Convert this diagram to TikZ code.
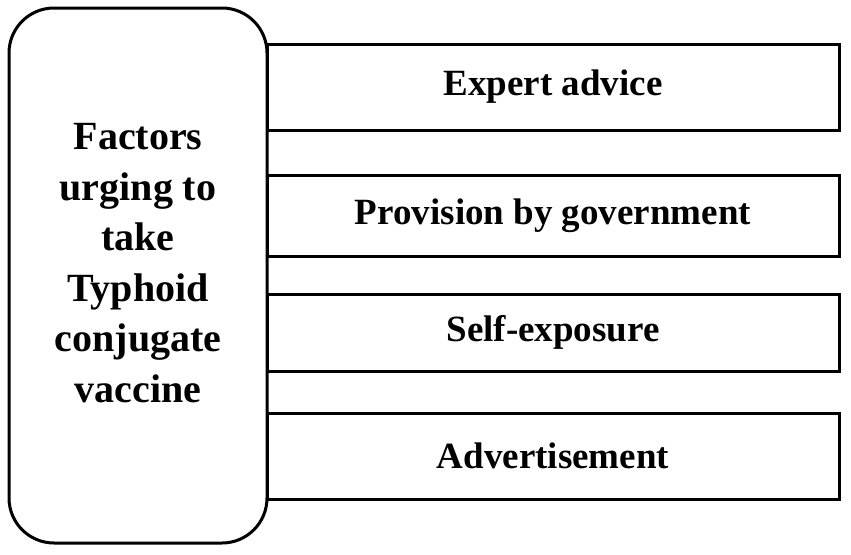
\documentclass[tikz,border=0pt]{standalone}
\usepackage{fontspec}
\setmainfont{Liberation Serif}
\begin{document}
\begin{tikzpicture}[x=1pt,y=-1pt,
  frame/.style={draw=black,line width=3pt,inner sep=0pt},
  factorbox/.style={frame,minimum width=572pt,font=\fontsize{37}{44}\selectfont\bfseries},
  mainbox/.style={frame,rounded corners=45pt,minimum width=258pt,minimum height=535pt},
  maintext/.style={align=center,inner sep=0pt,font=\fontsize{40}{50.5}\selectfont\bfseries}]
\useasboundingbox (0,0) rectangle (851,554);
\node[factorbox,minimum height=86pt] (f1) at (553,87) {Expert advice};
\node[factorbox,minimum height=81pt] (f2) at (553,215.5) {Provision by government};
\node[factorbox,minimum height=77pt] (f3) at (553,332.5) {Self-exposure};
\node[factorbox,minimum height=86pt] (f4) at (553,456) {Advertisement};
\node[mainbox] (main) at (138,275.5) {};
\node[maintext] (mainlabel) at (138,263) {Factors\\urging to\\take\\Typhoid\\conjugate\\vaccine};
\end{tikzpicture}
\end{document}
